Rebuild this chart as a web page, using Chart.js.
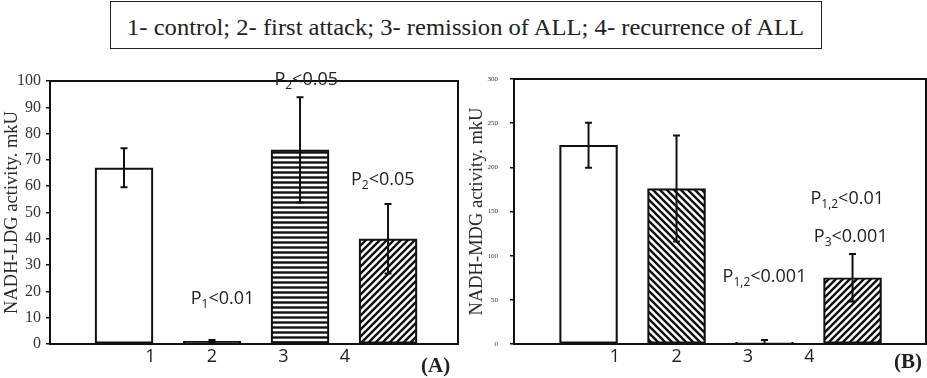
<!DOCTYPE html>
<html>
<head>
<meta charset="utf-8">
<script src="https://cdn.jsdelivr.net/npm/chart.js@4/dist/chart.umd.min.js"></script>
<style>
  body { margin: 0; background: #fff; width: 927px; height: 378px; overflow: hidden; position: relative; }
  canvas { position: absolute; }
  #legendBox { position: absolute; left: 110px; top: 1px; width: 710px; height: 46px; border: 1.5px solid #222;
    display: flex; align-items: center; justify-content: center; font-family: 'Liberation Serif', 'Times New Roman', serif;
    font-size: 24px; color: #222; white-space: nowrap; }
  #legendText { display: inline-block; transform-origin: center; position: relative; top: 2px; }
  .panelTag { position: absolute; font-family: 'Liberation Serif', serif; font-weight: bold; font-size: 21px; color: #222; }
</style>
</head>
<body>
<div id="legendBox"><span id="legendText">1- control; 2- first attack; 3- remission of ALL; 4- recurrence of ALL</span></div>
<canvas id="chartA" width="470" height="318" style="left:0;top:60px"></canvas>
<canvas id="chartB" width="467" height="318" style="left:460px;top:60px"></canvas>
<div class="panelTag" style="left:421px;top:353px">(A)</div>
<div class="panelTag" style="left:894px;top:349px">(B)</div>
<script>
// groups 1..4 and where the "1".."4" labels sit under the axis
const groups = [1, 2, 3, 4];
const xLabels = ['1', '2', '3', '4'];
const xLabelPos = [1.3, 2.0, 2.81, 3.51];

// (A) NADH-LDG
const ldgValues = [67, 1, 73.8, 40];
const ldgErrors = [7.4, 0.5, 20, 13.2];
const ldgTicks = [0, 10, 20, 30, 40, 50, 60, 70, 80, 90, 100];

// (B) NADH-MDG
const mdgValues = [225, 176, 2, 75];
const mdgErrors = [25.5, 60, 2.5, 27];
const mdgTicks = [0, 50, 100, 150, 200, 250, 300];

// significance labels: x/y in data units, parts = [text, isSub]
const ldgNotes = [
    { x: 3.07, y: 101, parts: [['P', 0], ['2', 1], ['<0.05', 0]] },
    { x: 3.94, y: 63, parts: [['P', 0], ['2', 1], ['<0.05', 0]] },
    { x: 2.12, y: 17.5, parts: [['P', 0], ['1', 1], ['<0.01', 0]] }
];
const mdgNotes = [
    { x: 3.94, y: 166, parts: [['P', 0], ['1,2', 1], ['<0.01', 0]] },
    { x: 3.98, y: 123, parts: [['P', 0], ['3', 1], ['<0.001', 0]] },
    { x: 3.0, y: 78, parts: [['P', 0], ['1,2', 1], ['<0.001', 0]] }
];

function makePattern(kind) {
    const s = kind === 'horiz' ? 5 : 7;
    const c = document.createElement('canvas');
    c.width = s; c.height = s;
    const g = c.getContext('2d');
    g.fillStyle = '#fff';
    g.fillRect(0, 0, s, s);
    g.strokeStyle = '#111';
    g.lineWidth = 2.4;
    g.beginPath();
    if (kind === 'horiz') {
        g.moveTo(0, s / 2); g.lineTo(s, s / 2);
    } else if (kind === 'fwd') {
        g.moveTo(-1, s + 1); g.lineTo(s + 1, -1);
        g.moveTo(-2, 2); g.lineTo(2, -2);
        g.moveTo(s - 2, s + 2); g.lineTo(s + 2, s - 2);
    } else {
        g.moveTo(-1, -1); g.lineTo(s + 1, s + 1);
        g.moveTo(s - 2, -2); g.lineTo(s + 2, 2);
        g.moveTo(-2, s - 2); g.lineTo(2, s + 2);
    }
    g.stroke();
    return g.createPattern(c, 'repeat');
}

const fills = { white: '#fff', horiz: makePattern('horiz'), fwd: makePattern('fwd'), back: makePattern('back') };

const extrasPlugin = {
    id: 'extras',
    afterDatasetsDraw(chart) {
        const ctx = chart.ctx;
        const xs = chart.scales.x, ys = chart.scales.y;
        const errs = chart.options.plugins.extras.errors;
        const vals = chart.data.datasets[0].data;
        ctx.save();
        ctx.strokeStyle = '#111';
        ctx.lineWidth = 2;
        vals.forEach((p, i) => {
            const x = xs.getPixelForValue(p.x);
            const top = ys.getPixelForValue(p.y + errs[i]);
            const bot = ys.getPixelForValue(Math.max(p.y - errs[i], 0));
            ctx.beginPath();
            ctx.moveTo(x, top); ctx.lineTo(x, bot);
            ctx.moveTo(x - 3.5, top); ctx.lineTo(x + 3.5, top);
            ctx.moveTo(x - 3.5, bot); ctx.lineTo(x + 3.5, bot);
            ctx.stroke();
        });
        // frame around plot area
        const a = chart.chartArea;
        ctx.lineWidth = 2;
        ctx.strokeRect(a.left, a.top, a.right - a.left, a.bottom - a.top);
        ctx.restore();
    },
    afterDraw(chart) {
        const ctx = chart.ctx;
        const xs = chart.scales.x, ys = chart.scales.y;
        const notes = chart.options.plugins.extras.notes;
        const big = "18px 'Open Sans', sans-serif";
        const small = "12px 'Open Sans', sans-serif";
        ctx.save();
        ctx.fillStyle = '#222';
        ctx.textBaseline = 'alphabetic';
        notes.forEach(n => {
            let w = 0;
            n.parts.forEach(([t, sub]) => { ctx.font = sub ? small : big; w += ctx.measureText(t).width; });
            let x = xs.getPixelForValue(n.x) - w / 2;
            const base = ys.getPixelForValue(n.y) + 6.5;
            n.parts.forEach(([t, sub]) => {
                ctx.font = sub ? small : big;
                ctx.fillText(t, x, sub ? base + 4 : base);
                x += ctx.measureText(t).width;
            });
        });
        ctx.restore();
    }
};

function buildChart(id, values, errors, notes, ticks, styles, opts) {
    new Chart(document.getElementById(id), {
        type: 'bar',
        data: {
            datasets: [{
                data: groups.map((g, i) => ({ x: g, y: values[i] })),
                backgroundColor: styles.map(s => fills[s]),
                borderColor: '#111',
                borderWidth: 2.2,
                barThickness: 58,
                borderSkipped: false
            }]
        },
        options: {
            responsive: false,
            animation: false,
            layout: { padding: opts.padding },
            plugins: {
                legend: { display: false },
                tooltip: { enabled: false },
                extras: { errors: errors, notes: notes }
            },
            scales: {
                x: {
                    type: 'linear',
                    offset: false,
                    min: opts.xMin,
                    max: opts.xMax,
                    afterBuildTicks: scale => { scale.ticks = xLabelPos.map(v => ({ value: v })); },
                    afterFit: scale => { scale.height = 34; },
                    ticks: {
                        padding: 2,
                        color: '#222',
                        font: { family: "'Open Sans', sans-serif", size: 18 },
                        callback: (v, i) => xLabels[i]
                    },
                    grid: { display: false, drawTicks: false },
                    border: { color: '#111', width: 2 }
                },
                y: {
                    min: 0,
                    max: ticks[ticks.length - 1],
                    afterBuildTicks: scale => { scale.ticks = ticks.map(v => ({ value: v })); },
                    afterFit: scale => { scale.width = opts.yWidth; },
                    ticks: {
                        padding: opts.tickPad,
                        color: '#333',
                        font: { family: "'Liberation Serif', serif", size: opts.tickSize }
                    },
                    grid: { drawOnChartArea: false, drawTicks: true, tickLength: 4, color: '#111', lineWidth: 1.5 },
                    border: { color: '#111', width: 2 },
                    title: {
                        display: true,
                        text: opts.title,
                        color: '#2a2a2a',
                        padding: { top: opts.titlePad, bottom: 0 },
                        font: { family: "'Liberation Serif', serif", size: 18.5, lineHeight: 1.2 }
                    }
                }
            }
        },
        plugins: [extrasPlugin]
    });
}

buildChart('chartA', ldgValues, ldgErrors, ldgNotes, ldgTicks, ['white', 'horiz', 'horiz', 'fwd'], {
    padding: { top: 21, right: 12, left: 0, bottom: 0 },
    xMin: 0.159, xMax: 4.795, yWidth: 50, tickPad: 5, tickSize: 16,
    title: 'NADH-LDG activity. mkU', titlePad: 1
});

buildChart('chartB', mdgValues, mdgErrors, mdgNotes, mdgTicks, ['white', 'back', 'white', 'fwd'], {
    padding: { top: 19, right: 1, left: 0, bottom: 0 },
    xMin: 0.153, xMax: 4.835, yWidth: 54, tickPad: 12, tickSize: 7,
    title: 'NADH-MDG activity. mkU', titlePad: 6
});

// squeeze the header text to the width it has in the figure
const lt = document.getElementById('legendText');
lt.style.transform = 'scaleX(' + (677 / lt.getBoundingClientRect().width) + ')';
</script>
</body>
</html>
